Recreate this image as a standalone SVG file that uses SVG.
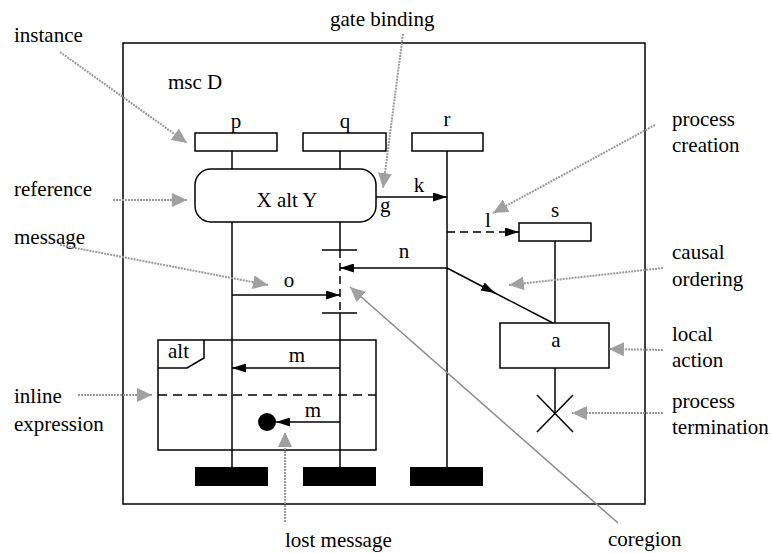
<svg xmlns="http://www.w3.org/2000/svg" width="772" height="553" viewBox="0 0 772 553" font-family="'Liberation Serif','DejaVu Serif','Noto Serif',serif">
<style>
text{font-family:"Liberation Serif","Tinos","Times New Roman","DejaVu Serif","Noto Serif",serif;font-size:21px;fill:#000}
.c{text-anchor:middle}
.ln{stroke:#000;stroke-width:1.5;fill:none}
.box{stroke:#000;stroke-width:1.5;fill:#fff}
.ann{stroke:#9a9a9a;stroke-width:2;stroke-dasharray:2 1;fill:none}
</style>
<defs>
<marker id="ah" markerUnits="userSpaceOnUse" markerWidth="15" markerHeight="9" refX="14" refY="4.5" orient="auto"><path d="M0,0 L14,4.5 L0,9 z" fill="#000"/></marker>
<marker id="gh" markerUnits="userSpaceOnUse" markerWidth="16" markerHeight="14" refX="15" refY="7" orient="auto"><path d="M0,0 L15,7 L0,14 z" fill="#a0a0a0"/></marker>
</defs>
<rect id="frame" x="123" y="43" width="522" height="461" class="ln" stroke-width="1.8"/>
<text x="168" y="89">msc D</text>
<g id="connectors">
<line x1="232" y1="151" x2="232" y2="467" class="ln"/>
<line x1="340" y1="151" x2="340" y2="250" class="ln"/>
<line x1="340" y1="250" x2="340" y2="313" class="ln" stroke-dasharray="8 5"/>
<line x1="340" y1="313" x2="340" y2="467" class="ln"/>
<line x1="447" y1="151" x2="447" y2="467" class="ln"/>
<line x1="555" y1="241" x2="555" y2="323" class="ln"/>
<line x1="555" y1="368" x2="555" y2="413" class="ln"/>
<line x1="322" y1="250" x2="357" y2="250" class="ln"/>
<line x1="322" y1="313" x2="357" y2="313" class="ln"/>
<line x1="376" y1="197" x2="447" y2="197" class="ln" marker-end="url(#ah)"/>
<line x1="447" y1="232" x2="519" y2="232" class="ln" stroke-dasharray="8 5" marker-end="url(#ah)"/>
<line x1="447" y1="268" x2="340" y2="268" class="ln" marker-end="url(#ah)"/>
<line x1="232" y1="295" x2="340" y2="295" class="ln" marker-end="url(#ah)"/>
<line x1="447" y1="268" x2="495" y2="293" class="ln" marker-end="url(#ah)"/>
<line x1="493" y1="292" x2="553" y2="323" class="ln"/>
<line x1="340" y1="368" x2="232" y2="368" class="ln" marker-end="url(#ah)"/>
<line x1="340" y1="422" x2="276" y2="422" class="ln" marker-end="url(#ah)"/>
</g>
<g id="p"><rect x="195" y="133" width="82" height="18" class="box"/><text x="236" y="128" class="c">p</text><rect x="195" y="467" width="73" height="19" fill="#000"/></g>
<g id="q"><rect x="303" y="133" width="83" height="18" class="box"/><text x="345" y="128" class="c">q</text><rect x="303" y="467" width="73" height="19" fill="#000"/></g>
<g id="r"><rect x="412" y="133" width="71" height="18" class="box"/><text x="447" y="126" class="c">r</text><rect x="410" y="467" width="73" height="19" fill="#000"/></g>
<g id="s"><rect x="519" y="223" width="72" height="18" class="box"/><text x="555" y="217" class="c">s</text></g>
<g id="reference"><rect x="195" y="169" width="181" height="53" rx="16" class="box"/><text x="287" y="207" class="c" font-size="22">X alt Y</text></g>
<g id="action"><rect x="500" y="323" width="109" height="45" class="box"/><text x="556" y="347" class="c">a</text></g>
<g id="stop"><line x1="537" y1="395" x2="573" y2="432" class="ln" stroke-width="2.2"/><line x1="573" y1="395" x2="537" y2="432" class="ln" stroke-width="2.2"/></g>
<g id="alt"><rect x="158" y="340" width="218" height="110" class="ln"/><path d="M158,368 L187,368 L204,358 L204,340" class="ln"/><text x="168" y="358">alt</text><line x1="158" y1="395" x2="376" y2="395" class="ln" stroke-dasharray="9 6"/></g>
<g id="lost"><circle cx="267" cy="422" r="9" fill="#000"/></g>
<g id="msg-labels">
<text x="419" y="192" class="c">k</text>
<text x="380" y="212">g</text>
<text x="488" y="227" class="c">l</text>
<text x="404" y="258" class="c">n</text>
<text x="289" y="287" class="c">o</text>
<text x="297" y="362" class="c">m</text>
<text x="313" y="417" class="c">m</text>
</g>
<g id="annotations">
<text x="14" y="42">instance</text>
<line x1="60" y1="52" x2="187" y2="143" class="ann" marker-end="url(#gh)"/>
<text x="330" y="26">gate binding</text>
<line x1="403" y1="34" x2="383" y2="188" class="ann" marker-end="url(#gh)"/>
<text x="14" y="196">reference</text>
<line x1="113" y1="200" x2="187" y2="200" class="ann" marker-end="url(#gh)"/>
<text x="14" y="244">message</text>
<line x1="60" y1="245" x2="268" y2="285" class="ann" marker-end="url(#gh)"/>
<text x="672" y="126">process</text>
<text x="672" y="152">creation</text>
<line x1="655" y1="125" x2="493" y2="213" class="ann" marker-end="url(#gh)"/>
<text x="672" y="259">causal</text>
<text x="672" y="286">ordering</text>
<line x1="663" y1="268" x2="509" y2="285" class="ann" marker-end="url(#gh)"/>
<text x="672" y="341">local</text>
<text x="672" y="367">action</text>
<line x1="663" y1="350" x2="609" y2="349" class="ann" marker-end="url(#gh)"/>
<text x="672" y="408">process</text>
<text x="672" y="434">termination</text>
<line x1="663" y1="413" x2="572" y2="413" class="ann" marker-end="url(#gh)"/>
<text x="14" y="403">inline</text>
<text x="14" y="431">expression</text>
<line x1="78" y1="395" x2="152" y2="395" class="ann" marker-end="url(#gh)"/>
<text x="285" y="547">lost message</text>
<line x1="285" y1="522" x2="285" y2="432" class="ann" marker-end="url(#gh)"/>
<text x="608" y="546">coregion</text>
<line x1="618" y1="523" x2="350" y2="287" stroke="#8a8a8a" stroke-width="1.5" marker-end="url(#gh)"/>
</g>
</svg>
